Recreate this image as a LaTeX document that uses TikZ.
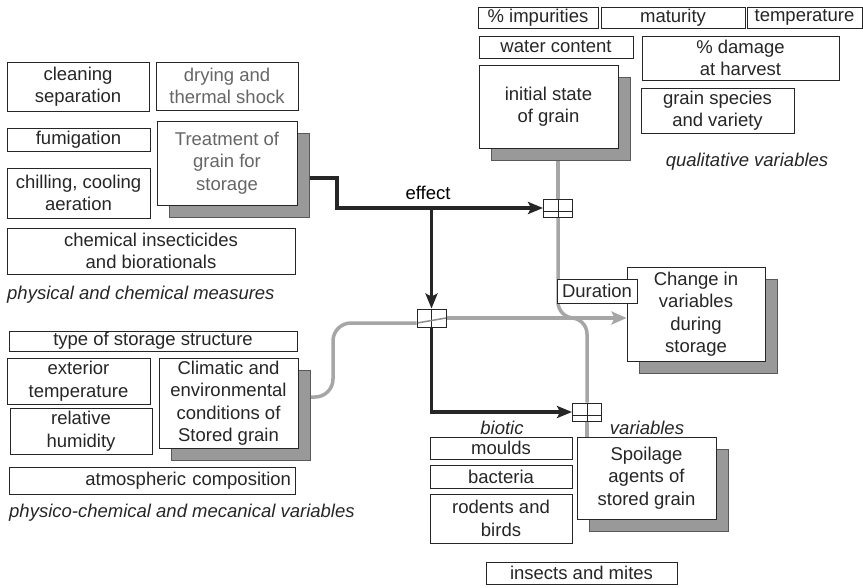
\documentclass[tikz,border=0pt]{standalone}
\usepackage{fontspec}
\setmainfont{Liberation Sans}
\usetikzlibrary{arrows.meta,shadows,backgrounds}

\begin{document}
\begin{tikzpicture}[x=1pt, y=-1pt,
  font=\fontsize{18.5}{22.5}\selectfont,
  box/.style={draw=black!85, line width=0.9pt, fill=white, text=black!85,
    align=center, inner sep=1pt},
  mainbox/.style={box, drop shadow={shadow xshift=12pt, shadow yshift=-12pt,
    fill=black!40, draw=black!65, line width=0.9pt, opacity=1}},
  lbl/.style={font=\fontsize{18.5}{22.5}\selectfont\itshape, text=black!85, inner sep=1pt},
  valve/.style={draw=black!85, line width=0.9pt, minimum width=29pt, minimum height=18pt,
    inner sep=0pt,
    path picture={
      \draw[black!85, line width=0.9pt] (path picture bounding box.north) -- (path picture bounding box.south);
      \draw[black!85, line width=0.9pt] ([yshift=-3pt]path picture bounding box.west) -- ([yshift=-3pt]path picture bounding box.east);
    }},
  mixvalve/.style={draw=black!85, line width=0.9pt, minimum width=29pt, minimum height=18pt,
    inner sep=0pt,
    path picture={
      \draw[black!85, line width=0.9pt] (path picture bounding box.north) -- (path picture bounding box.south);
      \draw[black!45, line width=1.5pt] ([yshift=-5pt]path picture bounding box.west) -- (path picture bounding box.east);
    }},
  effectline/.style={black!85, line width=3.5pt, -{Stealth[length=15pt, width=12pt, inset=3pt]}},
  flow/.style={black!35, line width=3.5pt},
]
\useasboundingbox (0,0) rectangle (863,587);

% physical and chemical measures
\node[box, minimum width=142pt, minimum height=49pt] (cleaning) at (78,86.5) {cleaning\\separation};
\node[box, text=black!60, minimum width=142pt, minimum height=48pt] (drying) at (227,86) {drying and\\thermal shock};
\node[box, minimum width=143pt, minimum height=23pt] (fumigation) at (78.5,139.5) {fumigation};
\node[mainbox, text=black!60, minimum width=140pt, minimum height=84pt] (treatment) at (227,163) {Treatment of\\grain for\\storage};
\node[box, minimum width=143pt, minimum height=50pt] (chilling) at (78.5,193) {chilling, cooling\\aeration};
\node[box, minimum width=288pt, minimum height=46pt] (chemical) at (151,251) {chemical insecticides\\and biorationals};
\node[lbl, anchor=west] (physlbl) at (6,295) {physical and chemical measures};

% qualitative variables
\node[box, minimum width=120pt, minimum height=21pt] (impurities) at (538,17.5) {\% impurities};
\node[box, minimum width=144pt, minimum height=21pt] (maturity) at (673,17.5) {maturity};
\node[box, minimum width=115pt, minimum height=21pt] (temperature) at (804.5,17.5) {temperature};
\node[box, minimum width=154pt, minimum height=22pt] (water) at (556,47) {water content};
\node[box, minimum width=197pt, minimum height=44pt] (damage) at (740.5,58) {\% damage\\at harvest};
\node[mainbox, minimum width=139pt, minimum height=83pt] (initial) at (548.5,106.5) {initial state\\of grain};
\node[box, minimum width=153pt, minimum height=45pt] (species) at (717.5,110.5) {grain species\\and variety};
\node[lbl] (quallbl) at (747,162) {qualitative variables};

% physico-chemical and mecanical variables
\node[box, minimum width=288pt, minimum height=20pt] (structure) at (153,341) {type of storage structure};
\node[box, minimum width=143pt, minimum height=46pt] (exterior) at (78.5,381) {exterior\\temperature};
\node[box, minimum width=142pt, minimum height=46pt] (humidity) at (81,431) {relative\\humidity};
\node[mainbox, minimum width=139pt, minimum height=90pt] (climatic) at (228.5,403) {Climatic and\\environmental\\conditions of\\Stored grain};
\node[box, text width=278pt, align=right, minimum height=27pt, inner sep=4pt] (atmosphere) at (152,480.5) {atmospheric composition};
\node[lbl, anchor=west] (physchemlbl) at (8,513) {physico-chemical and mecanical variables};

% biotic variables
\node[lbl] (bioticlbl) at (502,428) {biotic};
\node[lbl] (varlbl) at (647,428) {variables};
\node[box, minimum width=142pt, minimum height=22pt] (moulds) at (501,448) {moulds};
\node[box, minimum width=142pt, minimum height=23pt] (bacteria) at (501,476.5) {bacteria};
\node[box, minimum width=142pt, minimum height=49pt] (rodents) at (501,518.5) {rodents and\\birds};
\node[mainbox, minimum width=139pt, minimum height=82pt] (spoilage) at (646.5,478) {Spoilage\\agents of\\stored grain};
\node[box, minimum width=191pt, minimum height=22pt] (insects) at (581.5,573) {insects and mites};

% result
\node[mainbox, minimum width=138pt, minimum height=94pt] (change) at (696,314) {Change in\\variables\\during\\storage};
\node[box, minimum width=80pt, minimum height=24pt] (duration) at (597,291) {Duration};

% junctions
\node[valve] (sw1) at (558,208) {};
\node[mixvalve] (sw2) at (431.5,318) {};
\node[valve] (sw3) at (587,412) {};
\node (effectlbl) at (428,193) {effect};

\coordinate (ebend) at (337,208);
\coordinate (gbend) at (333,323);
\coordinate (gmerge) at (600,318);
\coordinate (gmerge2) at (565,318);

\begin{scope}[on background layer]
  \draw[flow, rounded corners=18pt] ([yshift=6pt]climatic.east) -| (gbend) -- ([yshift=-5pt]sw2.west);
  \draw[flow, -{Stealth[length=15pt, width=13pt, inset=3pt]}] (sw2.east) -- (change.west |- sw2.east);
  \draw[flow] (sw1.north |- initial.south) -- (sw1.north);
  \draw[flow, rounded corners=16pt] (sw1.south) |- (gmerge);
  \draw[flow, rounded corners=16pt] (sw3.north) |- (gmerge2);
  \draw[flow] (sw3.south) -- (sw3.south |- spoilage.north);
  \draw[effectline] ([yshift=-15pt]treatment.east) -| (ebend) -- (sw1.west);
  \draw[effectline] (ebend -| sw2.north) -- (sw2.north);
  \draw[effectline] (sw2.south) |- (sw3.west);
\end{scope}
\end{tikzpicture}
\end{document}
